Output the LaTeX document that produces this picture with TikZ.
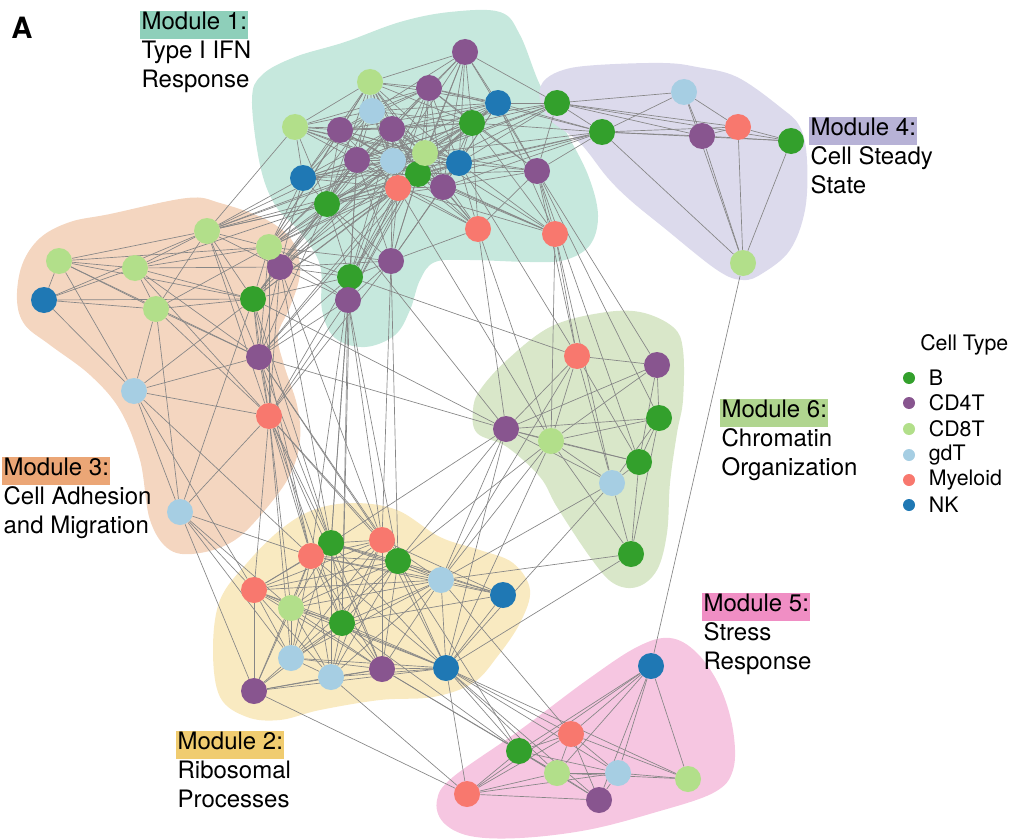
\documentclass[tikz,border=0pt]{standalone}
\usepackage{fontspec}
\setmainfont{TeX Gyre Heros}
\usetikzlibrary{positioning}

% cell type colours
\definecolor{bcell}{RGB}{51,160,44}
\definecolor{cdfour}{RGB}{136,85,143}
\definecolor{cdeight}{RGB}{178,223,138}
\definecolor{gdt}{RGB}{166,206,227}
\definecolor{myel}{RGB}{248,120,110}
\definecolor{nkcell}{RGB}{31,120,180}
% module colours
\definecolor{ifnbg}{RGB}{198,232,221}  \definecolor{ifnhd}{RGB}{142,207,186}
\definecolor{ribbg}{RGB}{249,234,193}  \definecolor{ribhd}{RGB}{240,204,112}
\definecolor{adhbg}{RGB}{244,214,192}  \definecolor{adhhd}{RGB}{235,166,118}
\definecolor{stdbg}{RGB}{220,218,236}  \definecolor{stdhd}{RGB}{183,178,214}
\definecolor{strbg}{RGB}{246,198,225}  \definecolor{strhd}{RGB}{240,142,196}
\definecolor{chrbg}{RGB}{217,231,201}  \definecolor{chrhd}{RGB}{176,213,143}
\definecolor{linkgray}{RGB}{134,134,134}

\newcommand{\modfont}{\fontsize{18pt}{21.75pt}\selectfont}
\newcommand{\legfont}{\fontsize{16pt}{19pt}\selectfont}
\newcommand{\firstline}{\rule{0pt}{14.25pt}}

\pgfdeclarelayer{blobs}
\pgfdeclarelayer{links}
\pgfsetlayers{blobs,links,main}

\tikzset{
  cell/.style={circle, minimum size=19.5pt, inner sep=0pt},
  link/.style={draw=linkgray, line width=0.5pt},
  blob/.style={smooth cycle, tension=0.6},
  hdr/.style={anchor=north west, inner xsep=1pt, inner ysep=0pt,
    text height=13.5pt, text depth=7.5pt, font=\modfont},
  desc/.style={anchor=north west, align=left, inner sep=0pt, font=\modfont},
  legdot/.style={circle, minimum size=9pt, inner sep=0pt},
  legtxt/.style={inner sep=0pt, font=\legfont}
}

\begin{document}
\begin{tikzpicture}[x=0.75pt, y=-0.75pt]
  \useasboundingbox (0,0) rectangle (1012,838);

  % module hulls
  \begin{pgfonlayer}{blobs}
    \fill[ifnbg] plot[blob] coordinates {(252,100) (262,75) (295,57) (345,42) (400,22)
      (450,12) (500,12) (520,35) (540,85) (565,130) (588,175) (598,215) (590,245)
      (565,260) (530,262) (470,260) (435,262) (420,280) (410,310) (395,335) (365,347)
      (335,338) (322,310) (320,265) (300,232) (275,205) (260,165)};
    \fill[stdbg] plot[blob] coordinates {(543,82) (563,70) (597,65) (663,63) (697,67)
      (737,77) (780,107) (800,127) (807,160) (805,210) (790,250) (763,273) (743,280)
      (717,270) (663,227) (630,200) (607,177) (580,143) (550,120) (540,100)};
    \fill[adhbg] plot[blob] coordinates {(17,300) (22,265) (40,238) (70,222) (110,214)
      (187,198) (220,203) (267,220) (293,242) (300,273) (290,307) (278,335) (284,365)
      (297,405) (300,440) (290,475) (265,510) (235,540) (200,553) (170,550) (150,520)
      (140,460) (120,410) (90,375) (50,345) (25,325)};
    \fill[chrbg] plot[blob] coordinates {(473,410) (480,390) (507,360) (550,327)
      (600,313) (640,312) (673,327) (683,350) (683,400) (677,433) (670,483) (667,533)
      (657,570) (637,587) (613,583) (590,557) (557,507) (540,477) (507,447) (477,433)};
    \fill[ribbg] plot[blob] coordinates {(213,650) (220,600) (247,563) (280,530)
      (313,510) (353,503) (397,510) (440,537) (480,550) (513,563) (530,590) (520,623)
      (497,657) (473,683) (433,697) (380,700) (320,710) (280,720) (247,717) (220,697)};
    \fill[strbg] plot[blob] coordinates {(437,800) (453,777) (520,730) (587,680)
      (637,647) (670,638) (697,653) (720,687) (733,730) (733,770) (713,793) (653,813)
      (587,830) (520,838) (470,836) (443,822)};
  \end{pgfonlayer}

  % cells
  \foreach \n/\x/\y/\c in {
    i1/465/52/cdfour, i2/370/82/cdeight, i3/429/88/cdfour, i4/498/103/nkcell,
    i5/372/111/gdt, i6/472/123/bcell, i7/295/127/cdeight, i8/340/130/cdfour,
    i9/392/129/cdfour, i15/418/174/bcell, i10/425/153/cdeight, i11/357/160/cdfour,
    i12/393/161/gdt, i13/459/163/nkcell, i14/537/171/cdfour, i16/303/178/nkcell,
    i17/398/188/myel, i18/443/187/cdfour, i19/327/204/bcell, i20/478/229/myel,
    i21/555/234/myel, i22/391/261/cdfour, i23/350/277/bcell, i24/348/300/cdfour,
    s1/557/103/bcell, s2/602/132/bcell, s3/684/92/gdt, s4/738/127/myel,
    s5/702/136/cdfour, s6/791/141/bcell, s7/743/263/cdeight,
    a1/207/231/cdeight, a2/59/261/cdeight, a3/135/268/cdeight, a4/280/267/cdfour,
    a5/269/247/cdeight, a6/44/300/nkcell, a7/253/299/bcell, a8/156/309/cdeight,
    a9/259/357/cdfour, a10/134/391/gdt, a11/269/416/myel, a12/180/512/gdt,
    c1/577/356/myel, c2/657/365/cdfour, c3/659/418/bcell, c4/506/429/cdfour,
    c5/551/441/cdeight, c6/639/462/bcell, c7/612/483/gdt, c8/631/554/bcell,
    r1/331/543/bcell, r2/311/556/myel, r3/382/540/myel, r4/398/561/bcell,
    r5/254/590/myel, r6/441/580/gdt, r7/503/595/nkcell, r8/291/608/cdeight,
    r9/342/623/bcell, r10/291/658/gdt, r11/331/677/gdt, r12/382/669/cdfour,
    r13/446/668/nkcell, r14/254/691/cdfour,
    t1/651/666/nkcell, t2/571/734/myel, t3/519/751/bcell, t4/557/773/cdeight,
    t5/618/773/gdt, t6/688/779/cdeight, t7/467/794/myel, t8/599/800/cdfour}
    \node[cell, fill=\c] (\n) at (\x,\y) {};

  % co-expression links
  \def\ifncore{i2,i3,i4,i5,i6,i8,i9,i10,i11,i12,i13,i15,i17,i18}
  \def\ribcore{r1,r2,r3,r4,r5,r6,r8,r9,r10,r11,r12,r13}
  \begin{pgfonlayer}{links}
    \foreach \u [count=\p] in \ifncore
      \foreach \v [count=\q] in \ifncore
        {\ifnum\q>\p \draw[link] (\u) -- (\v); \fi}
    \foreach \u [count=\p] in \ribcore
      \foreach \v [count=\q] in \ribcore
        {\ifnum\q>\p \draw[link] (\u) -- (\v); \fi}
    % module 1
    \foreach \u/\v in {i1/i2, i1/i3, i1/i4, i1/i6, i1/i9, i1/i10, i1/i12, i1/i13,
      i1/i14, i1/i15, i1/i18, i1/s1, i1/i5, i7/i2, i7/i5, i7/i8, i7/i9, i7/i11,
      i7/i12, i7/i10, i7/i13, i7/i15, i7/i16, i7/i19, i7/a1, i7/i3, i14/i4, i14/i6,
      i14/i13, i14/i18, i14/i10, i14/i15, i14/i3, i14/i20, i14/i21, i14/s1, i14/s2,
      i16/i2, i16/i5, i16/i8, i16/i9, i16/i10, i16/i11, i16/i12, i16/i13, i16/i15,
      i16/i17, i16/i19, i16/i6, i19/i2, i19/i8, i19/i9, i19/i10, i19/i11, i19/i12,
      i19/i13, i19/i15, i19/i17, i19/i18, i19/i6, i19/i5, i19/i22, i19/i23,
      i20/i10, i20/i12, i20/i15, i20/i17, i20/i18, i20/i13, i20/i6, i20/i22,
      i20/i11, i20/i9, i21/i13, i21/i18, i21/i10, i21/i12, i21/i15, i21/i6,
      i21/i4, i21/i17, i22/i10, i22/i12, i22/i15, i22/i17, i22/i18, i22/i13,
      i22/i11, i22/i23, i22/i24, i23/i10, i23/i12, i23/i15, i23/i17, i23/i11,
      i23/i9, i23/i24, i24/i10, i24/i12, i24/i15, i24/i17, i24/i11}
      \draw[link] (\u) -- (\v);
    % module 3 and its ties to module 1
    \foreach \u/\v in {a1/a2, a1/a3, a1/a6, a1/a8, a1/a7, a1/a5, a1/a9, a1/a11,
      a1/a4, a2/a3, a2/a6, a2/a8, a2/a7, a2/a10, a2/a5, a2/a9, a3/a6, a3/a8, a3/a7,
      a3/a9, a3/a11, a3/a5, a3/a4, a4/a5, a4/a7, a4/a9, a4/a11, a5/a7, a5/a9,
      a5/a11, a5/a8, a6/a8, a6/a7, a6/a10, a7/a8, a7/a9, a7/a11, a7/a10, a7/a12,
      a8/a9, a8/a11, a8/a12, a8/a10, a9/a10, a9/a11, a10/a11, a10/a12, a11/a12,
      a1/i16, a1/i19, a1/i11, a1/i12, a1/i10, a1/i17, a1/i15, a4/i10, a4/i12,
      a4/i15, a4/i17, a4/i11, a4/i9, a4/i19, a4/i16, a4/i23, a4/i24, a4/i22,
      a5/i10, a5/i12, a5/i15, a5/i17, a5/i11, a5/i9, a5/i2, a5/i5, a5/i8, a5/i19,
      a5/i16, a5/i23, a5/i24, a5/i22, a7/i12, a7/i15, a7/i17, a7/i11, a7/i19,
      a7/i23, a3/i19, a9/i17, a9/i15, a9/i23, a9/i24, a9/i19, a11/i23, a11/i24,
      a11/i22}
      \draw[link] (\u) -- (\v);
    % module 4
    \foreach \u/\v in {s1/s2, s1/s3, s1/s4, s1/s5, s1/s6, s2/s3, s2/s4, s2/s5,
      s2/s6, s2/s7, s3/s4, s3/s5, s3/s7, s4/s5, s4/s6, s4/s7, s5/s6, s5/s7, s6/s7,
      s7/t1, s1/i4, s1/i6, s1/i13, s1/i12, s1/i10, s1/i15, s1/i9, s2/i13, s2/i6,
      s2/i10, s2/i15, s2/i18, s2/i4, s2/i3, s2/i17}
      \draw[link] (\u) -- (\v);
    % module 6
    \foreach \u/\v in {c1/c4, c1/c5, c1/c6, c1/c7, c1/c2, c2/c4, c2/c5, c2/c3,
      c2/c6, c3/c4, c3/c5, c3/c6, c3/c7, c3/c8, c4/c5, c4/c6, c4/c7, c5/c6, c5/c7,
      c5/c8, c6/c7, c6/c8, c7/c8, i13/c1, i14/c1, i14/c2, i14/c3, i14/c6, i21/c1,
      i21/c5, i21/c7, i20/c4, i20/c5, i17/c5, i23/c1, i19/c4, a7/c4, a9/c4,
      c1/r6, c4/r6, c4/r4, c4/r13, c4/r1, c5/r6, c5/r4, c5/r13, c7/r6, c7/r13,
      c8/r6, c8/r13}
      \draw[link] (\u) -- (\v);
    % module 2 and its ties upward
    \foreach \u/\v in {r7/r4, r7/r6, r7/r13, r7/r1, r7/r3, r7/r9, r7/r2, r14/r5,
      r14/r8, r14/r10, r14/r11, r14/r12, r14/r13, r14/r9, r14/r2, a9/r1, a9/r2,
      a9/r3, a9/r4, a11/r1, a11/r2, a11/r3, a11/r4, a11/r8, a11/r9, a11/r10,
      a11/r5, a11/r12, a10/r5, a10/r2, a12/r5, a12/r2, a12/r8, a12/r14, a12/r10,
      a7/r2, a7/r1, a4/r1, a4/r3, i24/r1, i24/r3, i24/r9, i24/r4, i23/r2, i23/r9,
      i23/r1, i22/r3, i22/r4}
      \draw[link] (\u) -- (\v);
    % module 5
    \foreach \u/\v in {t1/t2, t1/t3, t1/t4, t1/t5, t1/t6, t1/t7, t1/t8, t2/t3,
      t2/t4, t2/t5, t2/t6, t2/t7, t2/t8, t3/t4, t3/t5, t3/t7, t3/t8, t4/t5, t4/t7,
      t4/t8, t4/t6, t5/t6, t5/t7, t5/t8, t7/t8, r13/t2, r13/t3, r13/t4, r13/t5,
      r13/t7, r13/t8, r13/t6, r12/t4, r11/t7, r14/t7, r6/t2, r4/t3, r9/t3, r12/t3}
      \draw[link] (\u) -- (\v);
  \end{pgfonlayer}

  % module labels
  \node[hdr, fill=ifnhd] (m1h) at (140,11) {Module 1:};
  \node[desc] (m1t) at ([xshift=1pt]m1h.south west) {\firstline Type I IFN\\Response};
  \node[hdr, fill=stdhd] (m4h) at (809,117) {Module 4:};
  \node[desc] (m4t) at ([xshift=1pt]m4h.south west) {\firstline Cell Steady\\State};
  \node[hdr, fill=adhhd] (m3h) at (2,457) {Module 3:};
  \node[desc] (m3t) at ([xshift=1pt]m3h.south west) {\firstline Cell Adhesion\\and Migration};
  \node[hdr, fill=chrhd] (m6h) at (720,399) {Module 6:};
  \node[desc] (m6t) at ([xshift=1pt]m6h.south west) {\firstline Chromatin\\Organization};
  \node[hdr, fill=strhd] (m5h) at (702,593) {Module 5:};
  \node[desc] (m5t) at ([xshift=1pt]m5h.south west) {\firstline Stress\\Response};
  \node[hdr, fill=ribhd] (m2h) at (176,731) {Module 2:};
  \node[desc] (m2t) at ([xshift=1pt]m2h.south west) {\firstline Ribosomal\\Processes};

  % panel letter
  \node[inner sep=0pt, font=\bfseries\fontsize{22pt}{26pt}\selectfont] (panel) at (22,28) {A};

  % legend
  \node[legtxt, anchor=west] (legtitle) at (920,345) {Cell Type};
  \foreach \n/\y/\c/\t in {kb/378/bcell/B, kcdf/403/cdfour/CD4T, kcde/429/cdeight/CD8T,
    kgdt/455/gdt/gdT, kmy/480/myel/Myeloid, knk/505/nkcell/NK}
  {
    \node[legdot, fill=\c] (\n) at (909,\y) {};
    \node[legtxt, right=10pt of \n] (\n t) {\t};
  }
\end{tikzpicture}
\end{document}
